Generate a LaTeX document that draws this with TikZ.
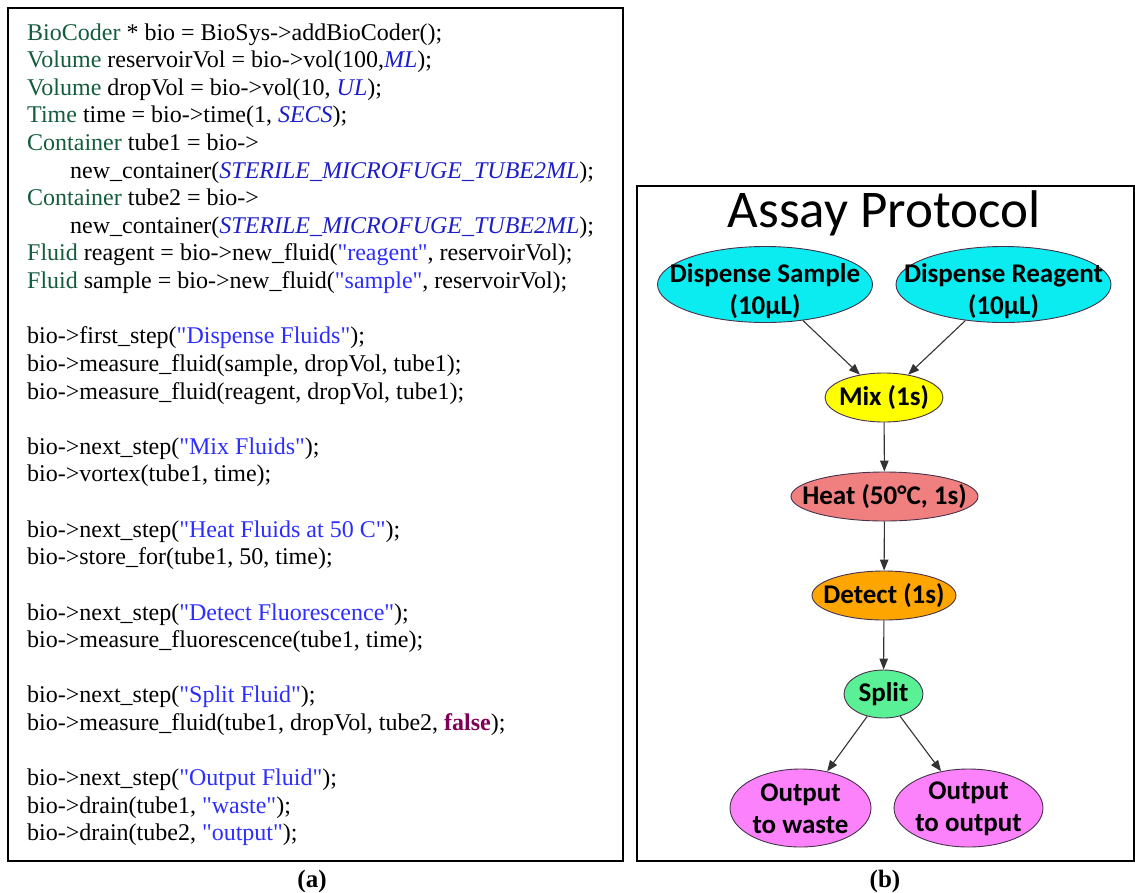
\documentclass[tikz,border=0pt]{standalone}
\usepackage{fontspec}
\setmainfont{Liberation Serif}[Ligatures=TeXOff]
\newfontfamily\calibri{Carlito}
\usetikzlibrary{shapes.geometric,arrows.meta}

\definecolor{typegreen}{RGB}{20,92,62}
\definecolor{constblue}{RGB}{30,30,200}
\definecolor{strblue}{RGB}{45,45,255}
\definecolor{kwpurple}{RGB}{127,0,85}
\definecolor{dispcyan}{RGB}{10,236,240}
\definecolor{mixyellow}{RGB}{255,255,0}
\definecolor{heatred}{RGB}{240,128,128}
\definecolor{detorange}{RGB}{255,165,0}
\definecolor{splitgreen}{RGB}{90,240,150}
\definecolor{outviolet}{RGB}{252,130,252}
\definecolor{nodeedge}{RGB}{70,50,75}

% syntax colouring for the listing
\newcommand{\ty}[1]{\textcolor{typegreen}{#1}}
\newcommand{\cn}[1]{\textcolor{constblue}{\itshape #1}}
\newcommand{\dq}{\symbol{34}}
\newcommand{\strg}[1]{\textcolor{strblue}{\dq#1\dq}}
\newcommand{\kwd}[1]{\textcolor{kwpurple}{\bfseries #1}}

\tikzset{
  frame/.style={draw=black, line width=2.4pt},
  codeline/.style={anchor=base west, inner sep=0pt, font=\fontsize{24}{27}\selectfont},
  caption/.style={anchor=base, inner sep=0pt, font=\fontsize{25}{28}\selectfont\bfseries},
  stepnode/.style={ellipse, draw=nodeedge, line width=0.9pt, inner sep=0pt},
  steplabel/.style={inner sep=0pt, align=center, font=\calibri\bfseries\fontsize{27}{32}\selectfont},
  flow/.style={draw=black!80, line width=1.1pt, -{Triangle[length=11pt,width=8.5pt]}},
}

\begin{document}
\begin{tikzpicture}[x=1pt, y=-1pt]
\useasboundingbox (0,0) rectangle (1135,892);

% ---------- (a) BioCoder listing ----------
\node[frame, rectangle, minimum width=615pt, minimum height=853pt, anchor=north west, inner sep=0pt] (codebox) at (7,7) {};

\def\lx{27}
\def\ix{70}
\def\lh{27.62}
\def\ly{40}

\node[codeline] (l1)  at (\lx,{\ly+0*\lh})  {\ty{BioCoder} * bio = BioSys->addBioCoder();};
\node[codeline] (l2)  at (\lx,{\ly+1*\lh})  {\ty{Volume} reservoirVol = bio->vol(100,\cn{ML});};
\node[codeline] (l3)  at (\lx,{\ly+2*\lh})  {\ty{Volume} dropVol = bio->vol(10, \cn{UL});};
\node[codeline] (l4)  at (\lx,{\ly+3*\lh})  {\ty{Time} time = bio->time(1, \cn{SECS});};
\node[codeline] (l5)  at (\lx,{\ly+4*\lh})  {\ty{Container} tube1 = bio->};
\node[codeline] (l6)  at (\ix,{\ly+5*\lh})  {new\_container(\cn{STERILE\_MICROFUGE\_TUBE2ML});};
\node[codeline] (l7)  at (\lx,{\ly+6*\lh})  {\ty{Container} tube2 = bio->};
\node[codeline] (l8)  at (\ix,{\ly+7*\lh})  {new\_container(\cn{STERILE\_MICROFUGE\_TUBE2ML});};
\node[codeline] (l9)  at (\lx,{\ly+8*\lh})  {\ty{Fluid} reagent = bio->new\_fluid(\strg{reagent}, reservoirVol);};
\node[codeline] (l10) at (\lx,{\ly+9*\lh})  {\ty{Fluid} sample = bio->new\_fluid(\strg{sample}, reservoirVol);};

\node[codeline] (l12) at (\lx,{\ly+11*\lh}) {bio->first\_step(\strg{Dispense Fluids});};
\node[codeline] (l13) at (\lx,{\ly+12*\lh}) {bio->measure\_fluid(sample, dropVol, tube1);};
\node[codeline] (l14) at (\lx,{\ly+13*\lh}) {bio->measure\_fluid(reagent, dropVol, tube1);};

\node[codeline] (l16) at (\lx,{\ly+15*\lh}) {bio->next\_step(\strg{Mix Fluids});};
\node[codeline] (l17) at (\lx,{\ly+16*\lh}) {bio->vortex(tube1, time);};

\node[codeline] (l19) at (\lx,{\ly+18*\lh}) {bio->next\_step(\strg{Heat Fluids at 50 C});};
\node[codeline] (l20) at (\lx,{\ly+19*\lh}) {bio->store\_for(tube1, 50, time);};

\node[codeline] (l22) at (\lx,{\ly+21*\lh}) {bio->next\_step(\strg{Detect Fluorescence});};
\node[codeline] (l23) at (\lx,{\ly+22*\lh}) {bio->measure\_fluorescence(tube1, time);};

\node[codeline] (l25) at (\lx,{\ly+24*\lh}) {bio->next\_step(\strg{Split Fluid});};
\node[codeline] (l26) at (\lx,{\ly+25*\lh}) {bio->measure\_fluid(tube1, dropVol, tube2, \kwd{false});};

\node[codeline] (l28) at (\lx,{\ly+27*\lh}) {bio->next\_step(\strg{Output Fluid});};
\node[codeline] (l29) at (\lx,{\ly+28*\lh}) {bio->drain(tube1, \strg{waste});};
\node[codeline] (l30) at (\lx,{\ly+29*\lh}) {bio->drain(tube2, \strg{output});};

\node[caption] (capa) at (312,887) {(a)};

% ---------- (b) assay protocol graph ----------
\node[frame, rectangle, minimum width=497pt, minimum height=675pt, anchor=north west, inner sep=0pt] (graphbox) at (636,185) {};

\node[anchor=base, inner sep=0pt, font=\calibri\fontsize{53}{60}\selectfont] (title) at (884,227) {Assay Protocol};

\node[stepnode, fill=dispcyan, minimum width=215pt, minimum height=76pt,
      label={[steplabel, yshift=-7pt]center:{Dispense Sample\\(10µL)}}] (ds) at (765,284.5) {};
\node[stepnode, fill=dispcyan, minimum width=215pt, minimum height=76pt,
      label={[steplabel, yshift=-7pt]center:{Dispense Reagent\\(10µL)}}] (dr) at (1003.5,284.5) {};
\node[stepnode, fill=mixyellow, minimum width=118pt, minimum height=49pt,
      label={[steplabel]center:{Mix (1s)}}] (mix) at (884,397.5) {};
\node[stepnode, fill=heatred, minimum width=187pt, minimum height=49pt,
      label={[steplabel]center:{Heat (50°C, 1s)}}] (heat) at (884.5,496.5) {};
\node[stepnode, fill=detorange, minimum width=144pt, minimum height=49pt,
      label={[steplabel]center:{Detect (1s)}}] (det) at (884,595.5) {};
\node[stepnode, fill=splitgreen, minimum width=79pt, minimum height=48pt,
      label={[steplabel]center:{Split}}] (split) at (883.5,694) {};
\node[stepnode, fill=outviolet, minimum width=141pt, minimum height=78pt,
      label={[steplabel, yshift=-1pt]center:{Output\\to waste}}] (waste) at (800.5,808) {};
\node[stepnode, fill=outviolet, minimum width=149pt, minimum height=78pt,
      label={[steplabel, yshift=-1pt]center:{Output\\to output}}] (out) at (968.5,808) {};

\draw[flow] (ds) -- (mix);
\draw[flow] (dr) -- (mix);
\draw[flow] (mix) -- (heat);
\draw[flow] (heat) -- (det);
\draw[flow] (det) -- (split);
\draw[flow] (split) -- (waste);
\draw[flow] (split) -- (out);

\node[caption] (capb) at (885,887) {(b)};
\end{tikzpicture}
\end{document}
